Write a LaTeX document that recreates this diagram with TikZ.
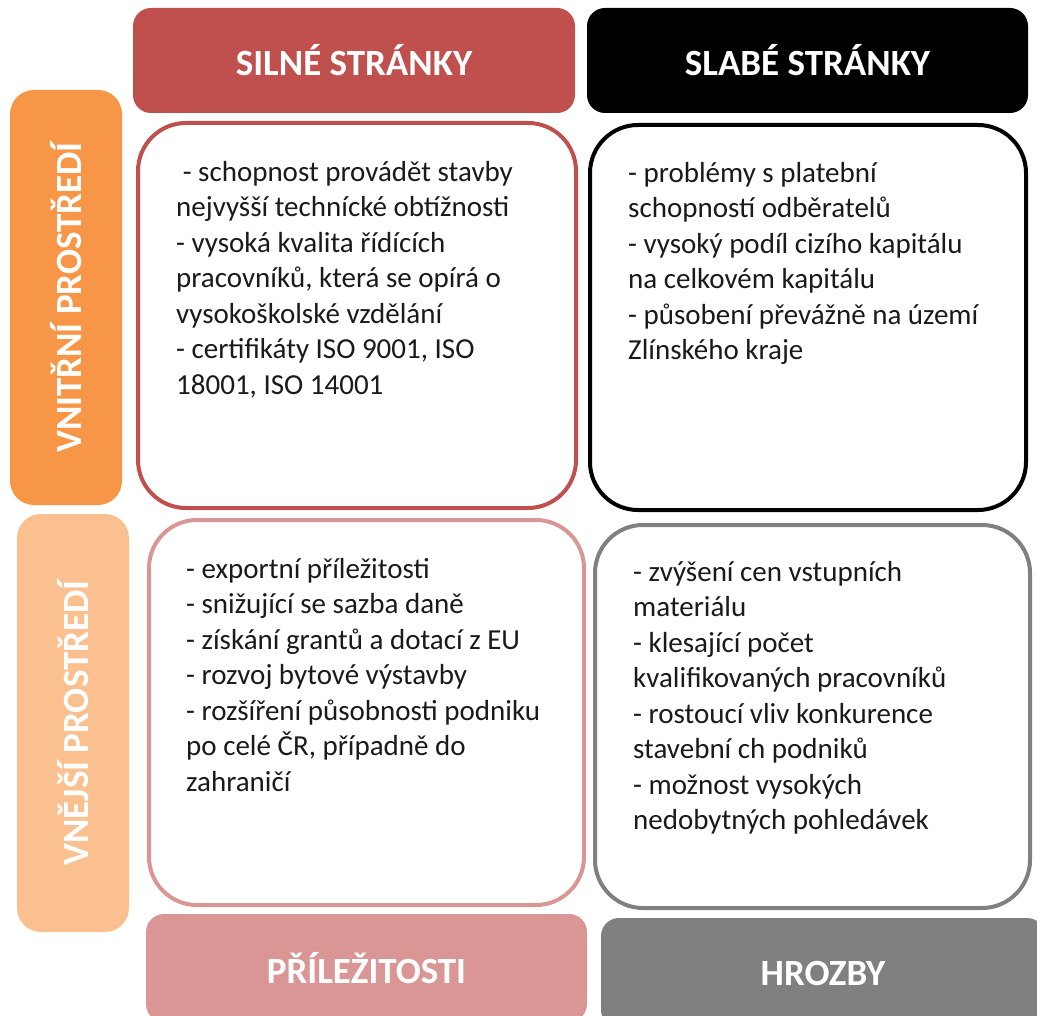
\documentclass[tikz,border=0pt]{standalone}
\usepackage{fontspec}
\setmainfont{Carlito}
\definecolor{sred}{HTML}{C0504D}
\definecolor{sorange}{HTML}{F79646}
\definecolor{lorange}{HTML}{FAC090}
\definecolor{spink}{HTML}{D99694}
\definecolor{sgray}{HTML}{808080}
\definecolor{bodyink}{HTML}{1A1A1A}
\begin{document}
\begin{tikzpicture}[x=1pt,y=-1pt,
  hdr/.style={rectangle, rounded corners=18pt, inner sep=0pt, text=white,
    font=\fontsize{37}{44}\selectfont\bfseries},
  sidebar/.style={rectangle, rounded corners=24pt, inner sep=0pt, text=white, rotate=90,
    minimum height=112pt, font=\fontsize{37}{44}\selectfont\bfseries},
  bigbox/.style={rectangle, rounded corners=48pt, inner sep=0pt, fill=white, line width=4pt},
  bodytext/.style={inner sep=0pt, align=left, anchor=north west, text=bodyink,
    font=\fontsize{29}{35.5}\selectfont}
]
\useasboundingbox (0,0) rectangle (1037,1016);
\clip (0,0) rectangle (1037,1016);

% headers
\node[hdr, fill=sred, minimum width=442pt, minimum height=105pt] (hS) at (354,60.5) {SILNÉ STRÁNKY};
\node[hdr, fill=black, minimum width=441pt, minimum height=105pt] (hW) at (807.5,60.5) {SLABÉ STRÁNKY};

% side bars
\node[sidebar, fill=sorange, minimum width=415pt] (bInt) at (66,297.5) {VNITŘNÍ PROSTŘEDÍ};
\node[sidebar, fill=lorange, minimum width=418pt] (bExt) at (73,723) {VNĚJŠÍ PROSTŘEDÍ};

% quadrant boxes
\node[bigbox, draw=sred, minimum width=438pt, minimum height=385pt] (bS) at (357,315.5) {};
\node[bigbox, draw=black, minimum width=436pt, minimum height=385pt] (bW) at (808,317.5) {};
\node[bigbox, draw=spink, minimum width=435pt, minimum height=385pt] (bO) at (366.5,712.5) {};
\node[bigbox, draw=sgray, minimum width=435pt, minimum height=383pt] (bT) at (812.5,716.5) {};

% footers
\node[hdr, fill=spink, minimum width=441pt, minimum height=108pt] (fO) at (366.5,968) {PŘÍLEŽITOSTI};
\node[hdr, fill=sgray, minimum width=444pt, minimum height=110pt] (fT) at (823,973) {HROZBY};

% texts
\node[bodytext] (tS) at (176,161) {\ - schopnost provádět stavby\\
nejvyšší technícké obtížnosti\\
- vysoká kvalita řídících\\
pracovníků, která se opírá o\\
vysokoškolské vzdělání\\
- certifikáty ISO 9001, ISO\\
18001, ISO 14001};

\node[bodytext] (tW) at (628,162) {- problémy s platební\\
schopností odběratelů\\
- vysoký podíl cizího kapitálu\\
na celkovém kapitálu\\
- působení převážně na území\\
Zlínského kraje};

\node[bodytext] (tO) at (186,558) {- exportní příležitosti\\
- snižující se sazba daně\\
- získání grantů a dotací z EU\\
- rozvoj bytové výstavby\\
- rozšíření působnosti podniku\\
po celé ČR, případně do\\
zahraničí};

\node[bodytext] (tT) at (633,561) {- zvýšení cen vstupních\\
materiálu\\
- klesající počet\\
kvalifikovaných pracovníků\\
- rostoucí vliv konkurence\\
stavební ch podniků\\
- možnost vysokých\\
nedobytných pohledávek};
\end{tikzpicture}
\end{document}
